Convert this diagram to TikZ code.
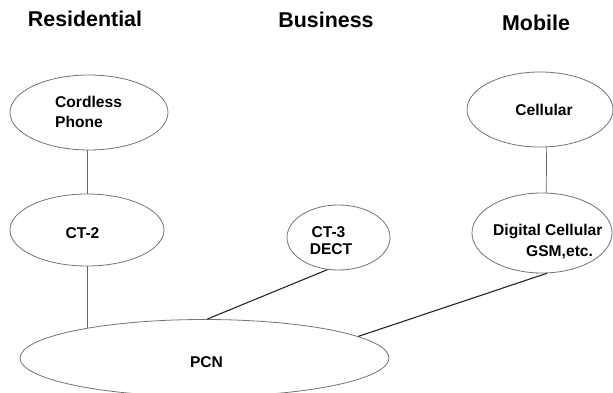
\documentclass[tikz,border=0pt]{standalone}
\usepackage{fontspec}
\setmainfont{Liberation Sans}
\usetikzlibrary{shapes.geometric}
\begin{document}
\begin{tikzpicture}[x=1pt,y=-1pt,
  oval/.style={ellipse,draw=black!55,line width=0.8pt,inner sep=0pt},
  head/.style={anchor=base,inner sep=0pt,font=\fontsize{21.4}{24}\selectfont\bfseries},
  lbl/.style={anchor=base,inner sep=0pt,font=\fontsize{15.6}{20}\selectfont\bfseries},
  thin/.style={draw=black!60,line width=0.7pt},
  thick/.style={draw=black!85,line width=1.1pt}]
\useasboundingbox (0,0) rectangle (613,393);
% headers
\node[head] (hres) at (85,27) {Residential};
\node[head] (hbus) at (326,28) {Business};
\node[head] (hmob) at (536,31) {Mobile};
% ellipses
\node[oval,minimum width=158pt,minimum height=75pt] (cord) at (89,112.5) {};
\node[oval,minimum width=154pt,minimum height=72pt] (ct2) at (87,230) {};
\node[oval,minimum width=103pt,minimum height=65pt] (dect) at (338.5,237.5) {};
\node[oval,minimum width=146pt,minimum height=75pt] (cell) at (540,109.5) {};
\node[oval,minimum width=140pt,minimum height=80pt] (dig) at (542,233) {};
\node[oval,minimum width=369pt,minimum height=77pt] (pcn) at (204.5,358) {};
% labels
\node[lbl,anchor=base west] (t1) at (55,107.5) {Cordless};
\node[lbl,anchor=base west] (t2) at (55,127.5) {Phone};
\node[lbl] (t3) at (82.5,238.5) {CT-2};
\node[lbl] (t4) at (328.5,237.5) {CT-3};
\node[lbl] (t5) at (331,254.5) {DECT};
\node[lbl] (t6) at (544,115.5) {Cellular};
\node[lbl,anchor=base west] (t7) at (493,235.5) {Digital Cellular};
\node[lbl,anchor=base west] (t8) at (526,256.5) {GSM,etc.};
\node[lbl] (t9) at (206.5,367.5) {PCN};
% connectors
\coordinate (pj) at (87,328.3);
\draw[thin] (ct2.north) -- (ct2.north |- cord.south);
\draw[thin] (ct2.south) -- (pj);
\draw[thin] (cell.280.6) -- (dig.84.3);
\draw[thick] (dect.251.6) -- (pcn.86);
\draw[thick] (dig.277) -- (pcn.8.2);
\end{tikzpicture}
\end{document}
